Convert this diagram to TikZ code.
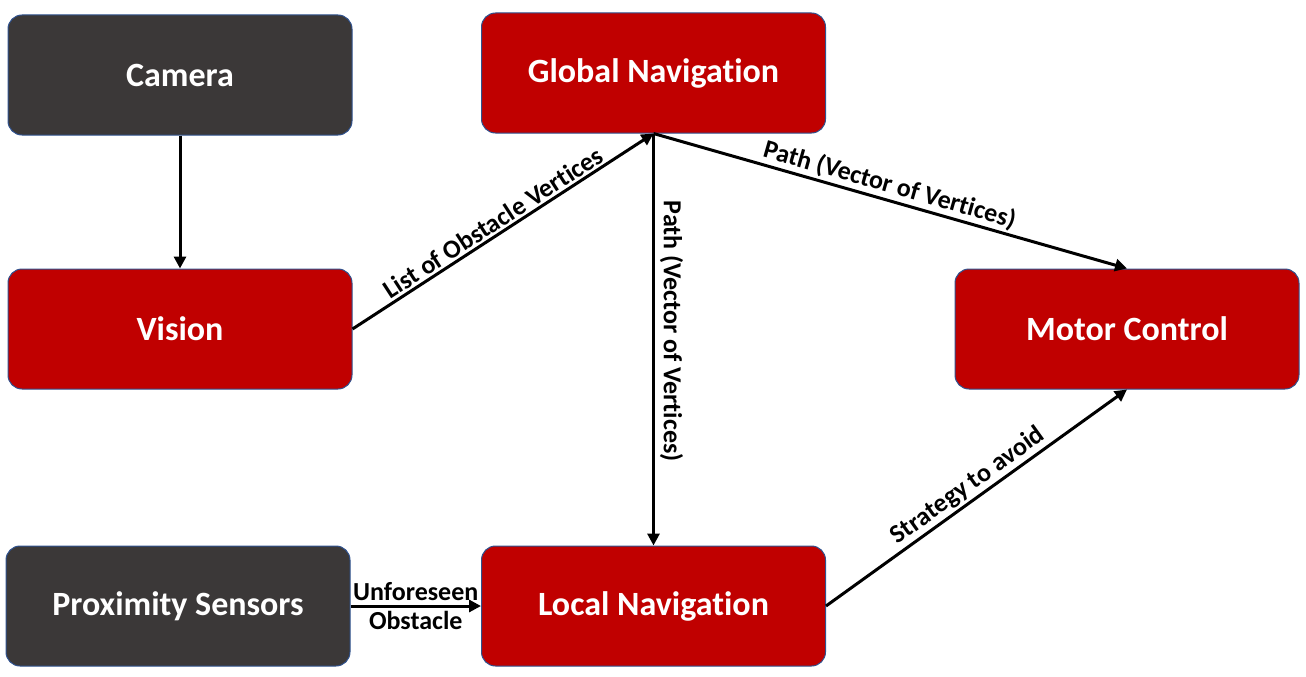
\documentclass[tikz,border=0pt]{standalone}
\usepackage{fontspec}
\setmainfont[RawFeature={-liga;-clig;-calt;-dlig}]{Carlito}
\usetikzlibrary{arrows.meta}
\definecolor{boxred}{HTML}{C00000}
\definecolor{boxgray}{HTML}{3B3838}
\definecolor{boxedge}{HTML}{2F528F}
\begin{document}
\begin{tikzpicture}[x=1pt,y=-1pt,
  block/.style={draw=boxedge,line width=1pt,rounded corners=14pt,minimum width=344pt,minimum height=120pt,
    text=white,font=\fontsize{34}{38}\selectfont\bfseries,inner sep=0pt},
  redblock/.style={block,fill=boxred},
  grayblock/.style={block,fill=boxgray},
  conn/.style={line width=3pt,-{Triangle[length=12pt,width=12pt]}},
  lbl/.style={font=\fontsize{26}{30}\selectfont\bfseries,text=black,inner sep=2pt}]
\useasboundingbox (0,0) rectangle (1306,677);
\node[grayblock] (cam) at (180,75) {Camera};
\node[redblock] (glob) at (653.5,73) {Global Navigation};
\node[redblock] (vis) at (180,329) {Vision};
\node[redblock] (mot) at (1127,329) {Motor Control};
\node[grayblock] (prox) at (178,606) {Proximity Sensors};
\node[redblock] (loc) at (653.5,606) {Local Navigation};

\draw[conn] (cam.south) -- (vis.north);
\draw[conn] (vis.east) -- node[lbl,sloped,above,pos=0.49] {List of Obstacle Vertices} (glob.south);
\draw[conn] (glob.south) -- node[lbl,sloped,above,pos=0.49] {Path (Vector of Vertices)} (mot.north);
\draw[conn] (glob.south) -- node[lbl,rotate=-90,anchor=south,pos=0.48,inner sep=5pt] {Path (Vector of Vertices)} (loc.north);
\draw[conn] (loc.east) -- node[lbl,sloped,above,pos=0.5] {Strategy to avoid} (mot.south);
\draw[conn] (prox.east) -- node[lbl,above,inner sep=4pt] {Unforeseen} node[lbl,below,inner sep=4pt] {Obstacle} (loc.west);
\end{tikzpicture}
\end{document}
